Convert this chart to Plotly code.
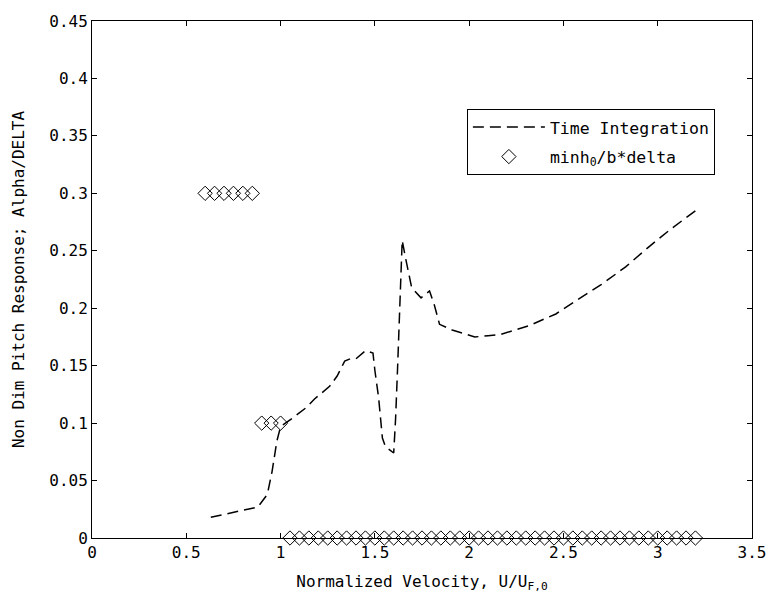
import plotly.graph_objects as go

# Time integration curve
line_x = [0.63, 0.88, 0.93, 0.955, 0.98, 1.0, 1.06, 1.14, 1.18, 1.26, 1.30, 1.34, 1.37, 1.40, 1.45, 1.49, 1.50,
          1.52, 1.54, 1.556, 1.60, 1.61, 1.62, 1.63, 1.645, 1.66, 1.68, 1.695, 1.745, 1.79, 1.815, 1.843, 1.91,
          2.03, 2.10, 2.165, 2.32, 2.46, 2.58, 2.70, 2.83, 2.95, 3.07, 3.21]
line_y = [0.018, 0.027, 0.038, 0.058, 0.084, 0.097, 0.104, 0.114, 0.121, 0.132, 0.141, 0.154, 0.156, 0.156, 0.163, 0.161, 0.146,
          0.122, 0.087, 0.0795, 0.074, 0.104, 0.146, 0.189, 0.259, 0.246, 0.229, 0.218, 0.209, 0.215, 0.203, 0.186, 0.181,
          0.175, 0.176, 0.177, 0.185, 0.195, 0.208, 0.2205, 0.236, 0.253, 0.269, 0.286]

# minh0/b*delta markers
diam_x = ([0.60, 0.65, 0.70, 0.75, 0.80, 0.85] + [0.90, 0.95, 1.00] +
          [round(1.05 + 0.05 * i, 2) for i in range(44)])
diam_y = [0.3] * 6 + [0.1] * 3 + [0.0] * 44

x_ticks = [0, 0.5, 1, 1.5, 2, 2.5, 3, 3.5]
y_ticks = [0, 0.05, 0.1, 0.15, 0.2, 0.25, 0.3, 0.35, 0.4, 0.45]

FONT = "DejaVu Sans Mono"

fig = go.Figure()
fig.add_trace(go.Scatter(x=line_x, y=line_y, mode="lines", name="Time Integration", legendgroup="a",
                         line=dict(color="black", width=1.5, dash="11px,6px")))
fig.add_trace(go.Scatter(x=diam_x, y=diam_y, mode="markers", name="minh<sub>0</sub>/b*delta", legendgroup="b",
                         marker=dict(symbol="diamond-open", size=11, color="black", line=dict(width=1, color="black")),
                         cliponaxis=False))

axis_common = dict(showline=True, linecolor="black", linewidth=1, mirror="allticks", ticks="inside",
                   ticklen=5, tickcolor="black", showgrid=False, zeroline=False,
                   tickfont=dict(family=FONT, size=16, color="black"))

fig.update_layout(
    width=778, height=605,
    margin=dict(l=92, r=16, t=15, b=67),
    paper_bgcolor="white", plot_bgcolor="white",
    font=dict(family=FONT, size=16, color="black"),
    showlegend=True,
    legend=dict(x=0.568, y=0.83, xanchor="left", yanchor="top", bordercolor="black", borderwidth=1,
                bgcolor="white", font=dict(family=FONT, size=16.5, color="black"), itemwidth=72,
                traceorder="grouped", tracegroupgap=5),
    xaxis=dict(range=[0, 3.5], tickvals=x_ticks, title=dict(text="Normalized Velocity, U/U<sub>F,0</sub>",
               font=dict(family=FONT, size=16), standoff=14), **axis_common),
    yaxis=dict(range=[0, 0.45], tickvals=y_ticks, title=dict(text="Non Dim Pitch Response; Alpha/DELTA",
               font=dict(family=FONT, size=16), standoff=20), **axis_common),
)

fig.write_html("out.html")
